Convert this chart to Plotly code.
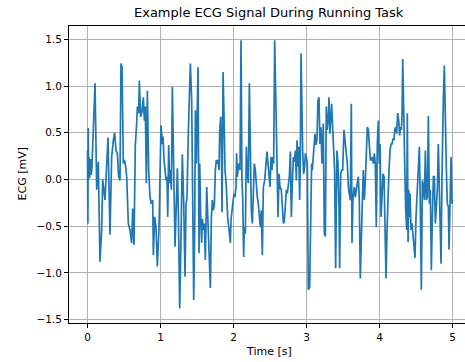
import plotly.graph_objects as go

# Time [s] and ECG [mV] values
time_s = [
    0.000, 0.005, 0.010, 0.015, 0.020, 0.030, 0.040, 0.050, 0.060, 0.103, 0.126, 0.148, 0.171, 0.194, 0.208,
    0.240, 0.263, 0.281, 0.308, 0.331, 0.354, 0.372, 0.390, 0.409, 0.427, 0.445, 0.459, 0.473, 0.491, 0.505,
    0.523, 0.537, 0.559, 0.582, 0.605, 0.619, 0.637, 0.655, 0.674, 0.683, 0.701, 0.710, 0.728, 0.747, 0.765,
    0.779, 0.792, 0.806, 0.820, 0.838, 0.856, 0.874, 0.893, 0.902, 0.920, 0.938, 0.957, 0.980, 0.993, 1.007,
    1.025, 1.035, 1.048, 1.062, 1.076, 1.089, 1.099, 1.112, 1.126, 1.135, 1.149, 1.162, 1.181, 1.199, 1.217,
    1.231, 1.245, 1.263, 1.281, 1.299, 1.318, 1.336, 1.350, 1.363, 1.382, 1.400, 1.409, 1.427, 1.436, 1.446,
    1.455, 1.468, 1.478, 1.491, 1.500, 1.514, 1.528, 1.537, 1.551, 1.564, 1.573, 1.587, 1.601, 1.614, 1.633,
    1.646, 1.660, 1.674, 1.683, 1.697, 1.710, 1.724, 1.738, 1.751, 1.765, 1.774, 1.788, 1.802, 1.811, 1.825,
    1.834, 1.843, 1.857, 1.870, 1.884, 1.902, 1.920, 1.939, 1.957, 1.966, 1.979, 1.993, 2.007, 2.020, 2.034,
    2.043, 2.052, 2.071, 2.089, 2.103, 2.116, 2.126, 2.139, 2.148, 2.162, 2.176, 2.189, 2.203, 2.217, 2.231,
    2.244, 2.258, 2.272, 2.285, 2.299, 2.313, 2.326, 2.340, 2.354, 2.368, 2.381, 2.395, 2.409, 2.427, 2.445,
    2.459, 2.473, 2.486, 2.500, 2.514, 2.527, 2.536, 2.550, 2.564, 2.582, 2.596, 2.610, 2.623, 2.637, 2.655,
    2.669, 2.683, 2.696, 2.710, 2.724, 2.737, 2.751, 2.765, 2.779, 2.792, 2.806, 2.820, 2.833, 2.847, 2.861,
    2.870, 2.879, 2.893, 2.906, 2.915, 2.925, 2.938, 2.947, 2.961, 2.975, 2.984, 2.998, 3.011, 3.025, 3.043,
    3.057, 3.070, 3.079, 3.089, 3.098, 3.107, 3.116, 3.130, 3.143, 3.157, 3.171, 3.184, 3.198, 3.212, 3.230,
    3.244, 3.258, 3.271, 3.285, 3.299, 3.308, 3.321, 3.331, 3.344, 3.358, 3.372, 3.385, 3.399, 3.417, 3.431,
    3.445, 3.454, 3.468, 3.481, 3.495, 3.513, 3.527, 3.541, 3.559, 3.573, 3.586, 3.600, 3.614, 3.623, 3.637,
    3.655, 3.668, 3.682, 3.696, 3.710, 3.723, 3.737, 3.751, 3.764, 3.778, 3.792, 3.806, 3.819, 3.833, 3.847,
    3.860, 3.874, 3.888, 3.901, 3.915, 3.929, 3.942, 3.956, 3.970, 3.984, 3.997, 4.007, 4.021, 4.034, 4.048,
    4.062, 4.075, 4.089, 4.103, 4.117, 4.130, 4.144, 4.158, 4.171, 4.185, 4.199, 4.208, 4.222, 4.235, 4.249,
    4.263, 4.276, 4.286, 4.299, 4.308, 4.318, 4.331, 4.345, 4.359, 4.372, 4.381, 4.391, 4.400, 4.409, 4.418,
    4.432, 4.445, 4.459, 4.473, 4.486, 4.500, 4.514, 4.532, 4.546, 4.560, 4.573, 4.587, 4.601, 4.614, 4.628,
    4.642, 4.655, 4.669, 4.683, 4.696, 4.710, 4.724, 4.738, 4.751, 4.765, 4.779, 4.792, 4.806, 4.820, 4.833,
    4.843, 4.856, 4.865, 4.875, 4.888, 4.902, 4.916, 4.929, 4.943, 4.952, 4.966, 4.980, 4.993, 5.000,
]
ecg_mv = [
    0.31, -0.47, 0.55, 0.00, 0.24, 0.02, 0.22, 0.05, 0.12, 1.03, -0.11, 0.19, -0.88, -0.54, 0.00,
    -0.22, 0.17, 0.45, -0.59, 0.24, 0.42, 0.50, 0.31, 0.28, 0.03, -0.01, 1.24, 1.20, 0.17, 0.21,
    0.14, 0.03, -0.47, -0.54, -0.68, -0.31, -0.70, 0.37, 0.60, 0.78, 0.71, 1.06, 0.67, 0.72, 0.88,
    0.63, 0.78, -0.04, 0.95, 0.10, -0.19, -0.26, -0.22, -0.81, -0.40, -0.51, -0.93, -0.51, 0.03, 0.58,
    0.38, 0.46, 0.21, 0.06, -0.01, 0.03, -0.40, 0.37, -0.04, 0.10, -0.11, 0.99, 0.03, -0.72, -0.26,
    0.12, -0.36, -1.38, -0.61, 0.27, -0.26, -1.04, -0.26, -0.19, 0.53, 0.88, 1.24, 0.85, 0.21, -0.08,
    -1.29, -0.54, 0.74, 0.17, 0.67, 1.20, -0.79, 0.17, -0.43, -0.68, -0.42, -0.54, -0.47, -0.86, -0.08,
    -0.33, -0.54, -0.86, -1.16, -0.40, -0.22, -0.33, -0.26, 0.10, 0.21, 0.17, 0.21, 0.10, 0.53, 0.67,
    0.35, -0.35, 1.15, 0.67, 0.10, -0.08, -0.40, -0.54, -0.68, -0.43, -0.29, -0.24, -0.15, -0.19, -0.08,
    0.28, 0.03, 0.17, 0.10, 1.49, -0.01, -0.19, -0.83, -0.51, -0.58, 0.35, 0.06, -0.04, 1.03, -0.04,
    -0.33, -0.47, -0.11, 0.17, 0.10, -0.08, -0.19, -0.26, -0.40, -0.51, -0.33, -0.81, -0.08, -0.01, 0.17,
    0.30, 0.17, 0.03, -0.08, 0.24, 0.10, 0.24, 0.17, 1.49, 0.60, 0.06, -0.40, 0.06, -0.08, -0.11,
    -0.26, -0.47, -0.45, -0.26, -0.11, -0.15, -0.04, 0.03, 0.30, -0.40, -0.04, 0.24, 0.19, 0.31, -0.01,
    0.42, 0.14, 0.35, -0.22, 0.17, 1.35, 0.53, 0.31, 0.06, 0.14, 0.28, 0.24, 0.17, -1.18, -1.15,
    -0.54, 0.17, 0.10, 0.24, 0.28, 0.35, 0.49, 0.37, 0.42, 0.85, 0.88, 0.38, 0.56, 0.17, 0.60,
    -0.58, -0.61, 0.78, 0.53, 0.67, 0.88, 0.49, 0.71, 0.81, 0.56, 0.35, 0.10, -0.95, 0.31, 0.17,
    -0.29, -0.95, 0.06, 0.10, 0.10, 0.53, 0.42, 0.35, 0.17, -0.08, -0.15, -0.22, 0.81, -0.68, -0.19,
    -0.08, -0.19, -0.08, -0.04, 0.03, -0.22, -1.06, -0.47, -0.26, 0.10, -0.22, -0.01, 0.35, 0.56, 0.53,
    0.38, 0.21, 0.21, 0.24, 0.17, 0.28, 0.17, -0.51, 0.38, 0.63, 0.17, 0.38, -0.40, -0.19, 0.06,
    0.03, -0.54, -1.06, -0.54, -0.08, 0.10, 0.31, 0.38, 0.38, 0.44, 0.42, 0.53, 0.56, 0.49, 0.71,
    0.63, 0.47, 0.56, 0.53, 0.67, 1.29, 0.53, 0.17, -0.33, -0.54, 0.71, -0.67, -0.11, -0.40, -0.15,
    -0.54, -0.47, -0.61, -0.72, -0.84, -0.40, -0.11, 0.06, 0.35, -0.33, -1.18, -0.01, -0.08, -0.22, 0.31,
    -0.22, -0.19, 0.68, -0.26, -0.11, -0.97, -0.40, 0.03, 0.03, -0.47, -0.29, -0.11, 0.38, -0.26, -0.54,
    -0.90, 0.03, 0.53, 0.88, 1.22, 0.49, 0.10, -0.26, -0.29, -0.75, -0.26, 0.24, -0.26, -0.22,
]

x_ticks = [0, 1, 2, 3, 4, 5]
y_ticks = [-1.5, -1.0, -0.5, 0.0, 0.5, 1.0, 1.5]

fig = go.Figure()
fig.add_trace(go.Scatter(
    x=time_s, y=ecg_mv, mode="lines",
    line=dict(color="#1f77b4", width=1.7),
    hoverinfo="skip", showlegend=False,
))

fig.update_layout(
    width=465, height=362,
    margin=dict(l=69, r=0, t=26, b=39, autoexpand=False),
    paper_bgcolor="white", plot_bgcolor="white",
    font=dict(family="DejaVu Sans", size=10.5, color="black"),
    showlegend=False,
    hovermode=False,
    annotations=[
        dict(text="Example ECG Signal During Running Task", xref="paper", yref="paper",
             x=0.5056, y=1, yshift=4, xanchor="center", yanchor="bottom", showarrow=False,
             font=dict(family="DejaVu Sans", size=13, color="black")),
        dict(text="Time [s]", xref="paper", yref="paper", x=0.5056, y=0, yshift=-20,
             xanchor="center", yanchor="top", showarrow=False,
             font=dict(family="DejaVu Sans", size=11, color="black")),
        dict(text="ECG [mV]", xref="paper", yref="paper", x=0, xshift=-47, y=0.5,
             xanchor="center", yanchor="middle", textangle=-90, showarrow=False,
             font=dict(family="DejaVu Sans", size=11, color="black")),
    ],
)
fig.update_xaxes(
    range=[-0.2534, 5.171], tickvals=x_ticks, tickformat="d", automargin=False,
    showgrid=True, gridcolor="#b0b0b0", gridwidth=0.8,
    showline=True, linecolor="black", linewidth=1, mirror=True,
    ticks="outside", ticklen=4, tickcolor="black", zeroline=False,
    tickfont=dict(family="DejaVu Sans", size=10.5, color="black"),
)
fig.update_yaxes(
    range=[-1.535, 1.642], tickvals=y_ticks, tickformat=".1f", automargin=False,
    showgrid=True, gridcolor="#b0b0b0", gridwidth=0.8,
    showline=True, linecolor="black", linewidth=1, mirror=False,
    ticks="outside", ticklen=4, tickcolor="black", zeroline=False,
    tickfont=dict(family="DejaVu Sans", size=10.5, color="black"),
)
fig.write_html("out.html", config={"displayModeBar": False},
               post_script="document.body.style.margin='0px';")
